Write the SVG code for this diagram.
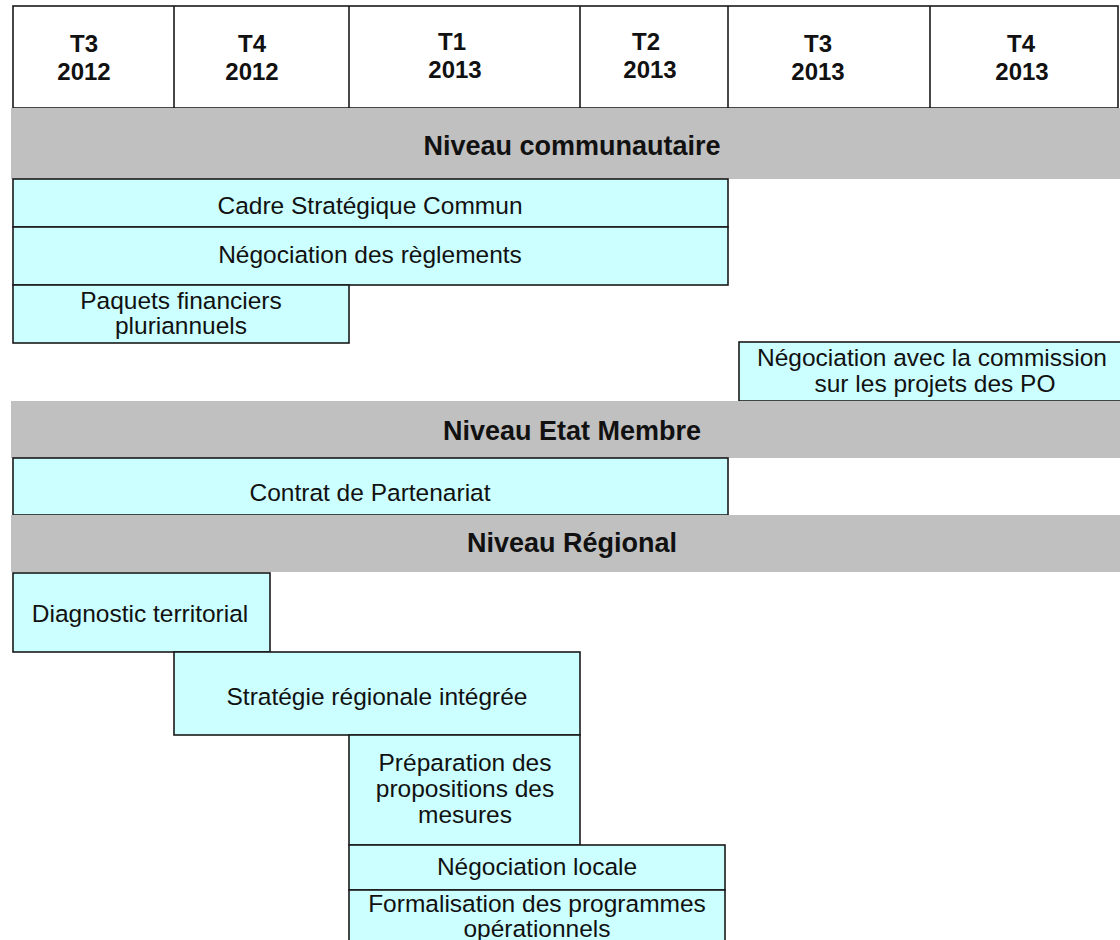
<svg xmlns="http://www.w3.org/2000/svg" width="1120" height="940" viewBox="0 0 1120 940">
<style>
.hdr{font-family:"Liberation Sans",Arial,sans-serif;font-weight:bold;font-size:24px;fill:#111;text-anchor:middle}
.band{fill:#c0c0c0}
.bt{font-family:"Liberation Sans",Arial,sans-serif;font-weight:bold;font-size:27px;fill:#111;text-anchor:middle}
.box{fill:#ccffff;stroke:#1a1a1a;stroke-width:1.6}
.lbl{font-family:"Liberation Sans",Arial,sans-serif;font-size:24.5px;fill:#111;text-anchor:middle}
.grid{fill:#fff;stroke:#1a1a1a;stroke-width:1.6}
</style>
<rect width="1120" height="940" fill="#fff"/>
<g id="header">
<rect class="grid" x="13" y="6" width="1105" height="102"/>
<line x1="174" y1="6" x2="174" y2="108" stroke="#1a1a1a" stroke-width="1.6"/>
<line x1="349" y1="6" x2="349" y2="108" stroke="#1a1a1a" stroke-width="1.6"/>
<line x1="580" y1="6" x2="580" y2="108" stroke="#1a1a1a" stroke-width="1.6"/>
<line x1="728" y1="6" x2="728" y2="108" stroke="#1a1a1a" stroke-width="1.6"/>
<line x1="930" y1="6" x2="930" y2="108" stroke="#1a1a1a" stroke-width="1.6"/>
<text class="hdr" x="84" y="52">T3</text><text class="hdr" x="84" y="80">2012</text>
<text class="hdr" x="252" y="52">T4</text><text class="hdr" x="252" y="80">2012</text>
<text class="hdr" x="452" y="50">T1</text><text class="hdr" x="455" y="78">2013</text>
<text class="hdr" x="646" y="50">T2</text><text class="hdr" x="650" y="78">2013</text>
<text class="hdr" x="818" y="52">T3</text><text class="hdr" x="818" y="80">2013</text>
<text class="hdr" x="1021" y="52">T4</text><text class="hdr" x="1022" y="80">2013</text>
</g>
<g id="band-communautaire">
<rect class="band" x="11" y="108" width="1109" height="71"/>
<text class="bt" x="572" y="155">Niveau communautaire</text>
</g>
<g id="cadre">
<rect class="box" x="13" y="179" width="715" height="48"/>
<text class="lbl" x="370" y="214">Cadre Stratégique Commun</text>
</g>
<g id="reglements">
<rect class="box" x="13" y="227" width="715" height="58"/>
<text class="lbl" x="370" y="263">Négociation des règlements</text>
</g>
<g id="paquets">
<rect class="box" x="13" y="285" width="336" height="58"/>
<text class="lbl" x="181" y="309">Paquets financiers</text>
<text class="lbl" x="181" y="334">pluriannuels</text>
</g>
<g id="negociation-commission">
<rect class="box" x="739" y="342" width="400" height="59"/>
<text class="lbl" x="932" y="366">Négociation avec la commission</text>
<text class="lbl" x="935" y="392">sur les projets des PO</text>
</g>
<g id="band-etat">
<rect class="band" x="11" y="401" width="1109" height="57"/>
<text class="bt" x="572" y="440">Niveau Etat Membre</text>
</g>
<g id="contrat">
<rect class="box" x="13" y="458" width="715" height="57"/>
<text class="lbl" x="370" y="501">Contrat de Partenariat</text>
</g>
<g id="band-regional">
<rect class="band" x="11" y="515" width="1109" height="57"/>
<text class="bt" x="572" y="552">Niveau Régional</text>
</g>
<g id="diagnostic">
<rect class="box" x="13" y="573" width="257" height="79"/>
<text class="lbl" x="140" y="622">Diagnostic territorial</text>
</g>
<g id="strategie">
<rect class="box" x="174" y="652" width="406" height="83"/>
<text class="lbl" x="377" y="705">Stratégie régionale intégrée</text>
</g>
<g id="preparation">
<rect class="box" x="349" y="735" width="231" height="110"/>
<text class="lbl" x="465" y="771">Préparation des</text>
<text class="lbl" x="465" y="797">propositions des</text>
<text class="lbl" x="465" y="823">mesures</text>
</g>
<g id="negociation-locale">
<rect class="box" x="349" y="845" width="376" height="45"/>
<text class="lbl" x="537" y="875">Négociation locale</text>
</g>
<g id="formalisation">
<rect class="box" x="349" y="890" width="376" height="60"/>
<text class="lbl" x="537" y="912">Formalisation des programmes</text>
<text class="lbl" x="537" y="937">opérationnels</text>
</g>
<g id="connectors"></g>
</svg>
